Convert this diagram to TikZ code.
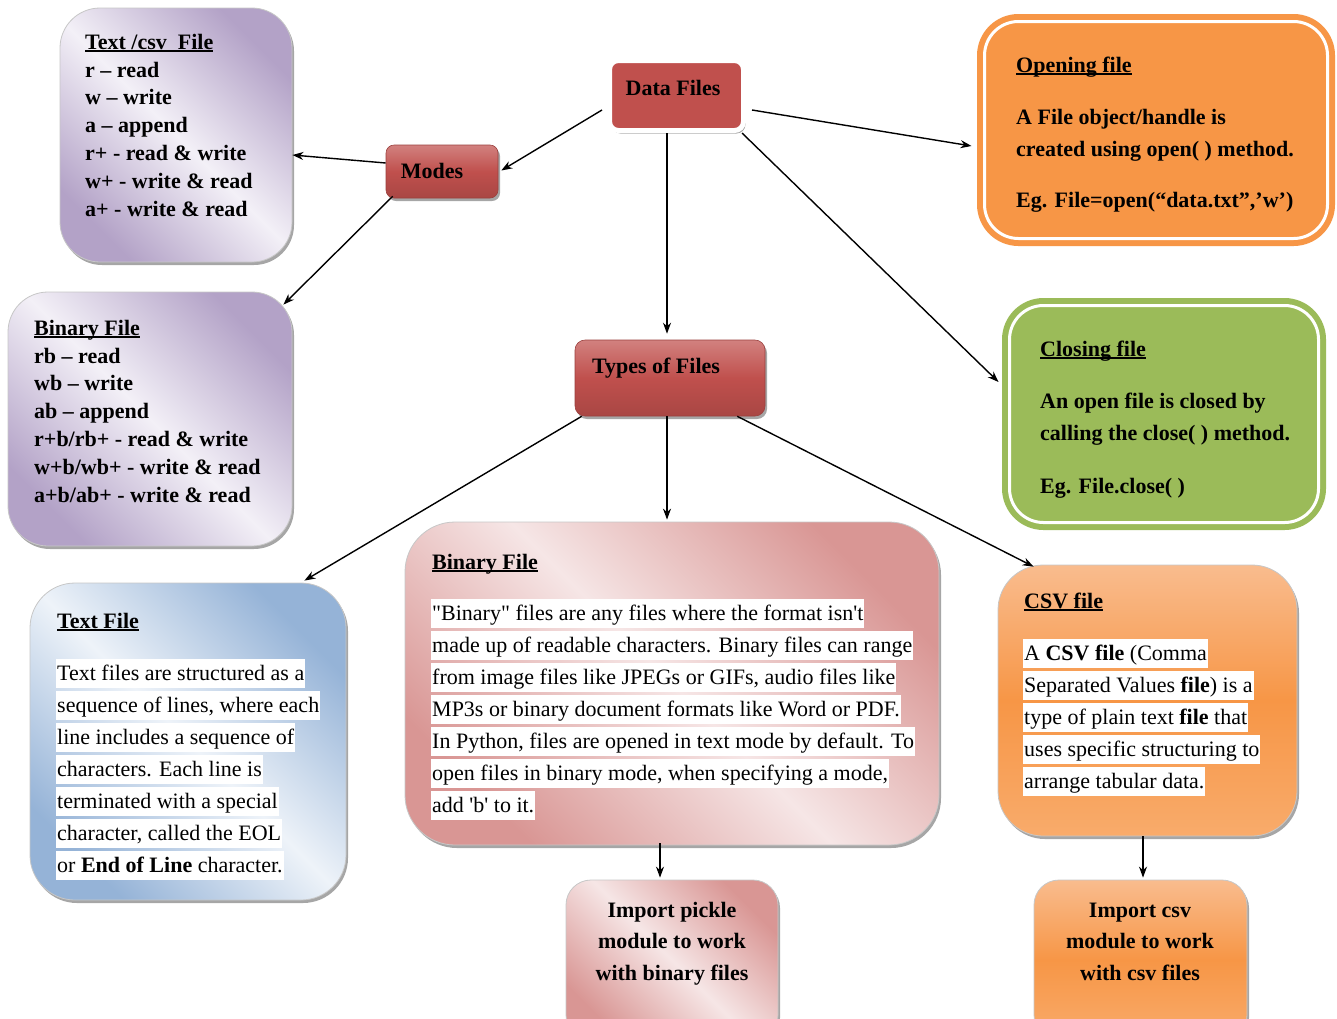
\documentclass[tikz,border=0pt]{standalone}
\usepackage{fontspec}
\setmainfont{Liberation Serif}[Ligatures=TeXOff]
\usetikzlibrary{shadows,calc,arrows.meta}
\definecolor{pur}{HTML}{B3A2C7}
\definecolor{purl}{HTML}{F3F0F7}
\definecolor{blu}{HTML}{95B3D7}
\definecolor{blul}{HTML}{EEF3F9}
\definecolor{pnk}{HTML}{D99694}
\definecolor{pnkl}{HTML}{F6E6E6}
\definecolor{org}{HTML}{F79646}
\definecolor{orgl}{HTML}{F9BC8E}
\definecolor{grn}{HTML}{9BBB59}
\definecolor{rd}{HTML}{C0504D}
\newcommand\ulx[1]{\setbox0\hbox{#1}\rlap{\rule[-2.6pt]{\wd0}{1.4pt}}\box0}
\newcommand\hlx[1]{{\setlength\fboxsep{1pt}\colorbox{white}{\rule[-7pt]{0pt}{27pt}#1}}}
\newcommand\listfont{\fontsize{22}{27.8}\selectfont\bfseries}
\newcommand\infofont{\fontsize{22}{32}\selectfont\bfseries}
\newcommand\bodyfont{\fontsize{22}{32}\selectfont}
\newcommand\impfont{\fontsize{22}{31.5}\selectfont\bfseries}
\newcommand\fst{\rule{0pt}{16pt}}
\begin{document}
\begin{tikzpicture}[x=1pt,y=-1pt,
  box/.style={rectangle, inner sep=0pt, draw=black!22, line width=0.8pt},
  shad/.style={drop shadow={shadow xshift=2pt,shadow yshift=-3pt,opacity=0.35,fill=black}},
  diag/.style 2 args={top color=#1,bottom color=#1,middle color=#2,shading angle=-45},
  redbox/.style={rectangle, inner sep=0pt, draw=rd!80!black, line width=0.6pt, top color=rd!72!white, bottom color=rd!88!black, middle color=rd, shad},
  orgshade/.style={top color=orgl, bottom color=org!80!white, middle color=org},
  conn/.style={-{Stealth[length=11pt,width=8pt]}, line width=1.4pt},
  txt/.style={inner sep=0pt, align=left, anchor=north west},
  ttl/.style={inner sep=0pt, anchor=base west, font=\fontsize{22}{27}\selectfont\bfseries},
]
\useasboundingbox (0,0) rectangle (1337,1018);
\fill[white] (0,0) rectangle (1337,1018);
\clip (0,0) rectangle (1337,1018);

% boxes
\node[box, shad, diag={pur}{purl}, rounded corners=40pt, minimum width=232pt, minimum height=254pt] (tcsv) at (176,135) {};
\node[box, shad, diag={pur}{purl}, rounded corners=40pt, minimum width=284pt, minimum height=254pt] (bmode) at (150,419) {};
\node[redbox, rounded corners=8pt, minimum width=112pt, minimum height=53pt] (modes) at (442,171.5) {};
\node[rectangle, fill=rd, draw=white, line width=5pt, rounded corners=9pt, minimum width=134pt, minimum height=70pt, shad] (data) at (676.5,95.5) {};
\node[redbox, rounded corners=10pt, minimum width=190pt, minimum height=76pt] (types) at (670,378) {};
\node[rectangle, fill=org, draw=org, line width=6pt, double=white, double distance=3pt, rounded corners=34pt, minimum width=343pt, minimum height=217pt] (open) at (1156,130) {};
\node[rectangle, fill=grn, draw=grn, line width=6pt, double=white, double distance=3pt, rounded corners=34pt, minimum width=309pt, minimum height=217pt] (close) at (1164,414) {};
\node[box, shad, diag={blu}{blul}, rounded corners=45pt, minimum width=316pt, minimum height=317pt] (tfile) at (188,741.5) {};
\node[box, shad, diag={pnk}{pnkl}, rounded corners=50pt, minimum width=534pt, minimum height=323pt] (bfile) at (672,683.5) {};
\node[box, shad, orgshade, rounded corners=45pt, minimum width=299pt, minimum height=271pt] (cfile) at (1147.5,700.5) {};
\node[box, shad, diag={pnk}{pnkl}, rounded corners=25pt, minimum width=212pt, minimum height=160pt] (pickle) at (672,960) {};
\node[box, shad, orgshade, rounded corners=25pt, minimum width=213pt, minimum height=160pt] (icsv) at (1140.5,960) {};

% texts
\node[txt, font=\listfont] (tcsvt) at (85,33) {\fst\ulx{Text /csv\ \ File}\\ r – read\\ w – write\\ a – append\\ r+ - read \& write\\ w+ - write \& read\\ a+ - write \& read};
\node[txt, font=\listfont] (bmodet) at (34,319) {\fst\ulx{Binary File}\\ rb – read\\ wb – write\\ ab – append\\ r+b/rb+ - read \& write\\ w+b/wb+ - write \& read\\ a+b/ab+ - write \& read};
\node[inner sep=0pt, anchor=base, font=\fontsize{22}{27}\selectfont\bfseries] (modest) at (432,178) {Modes};
\node[inner sep=0pt, anchor=base, font=\fontsize{22}{27}\selectfont\bfseries] (datat) at (673,95) {Data Files};
\node[inner sep=0pt, anchor=base, font=\fontsize{22}{27}\selectfont\bfseries] (typest) at (656,373) {Types of Files};
\node[txt, font=\infofont] (opent) at (1016,56) {\fst\ulx{Opening file}\\[20pt] A File object/handle is\\ created using open( ) method.\\[19pt] Eg. File=open(“data.txt”,’w’)};
\node[txt, font=\infofont] (closet) at (1040,340) {\fst\ulx{Closing file}\\[20pt] An open file is closed by\\ calling the close( ) method.\\[21pt] Eg. File.close( )};

\node[ttl] (tfilett) at (57,628) {\ulx{Text File}};
\node[txt, font=\bodyfont] (tfilet) at (56,659) {\hlx{Text files are structured as a}\\ \hlx{sequence of lines, where each}\\ \hlx{line includes a sequence of}\\ \hlx{characters. Each line is}\\ \hlx{terminated with a special}\\ \hlx{character, called the EOL}\\ \hlx{or \textbf{End of Line} character.}};

\node[ttl] (bfilett) at (432,569) {\ulx{Binary File}};
\node[txt, font=\bodyfont] (bfilet) at (431,599) {\hlx{"Binary" files are any files where the format isn't}\\ \hlx{made up of readable characters. Binary files can range}\\ \hlx{from image files like JPEGs or GIFs, audio files like}\\ \hlx{MP3s or binary document formats like Word or PDF.}\\ \hlx{In Python, files are opened in text mode by default. To}\\ \hlx{open files in binary mode, when specifying a mode,}\\ \hlx{add 'b' to it.}};

\node[ttl] (cfilett) at (1024,608) {\ulx{CSV file}};
\node[txt, font=\bodyfont] (cfilet) at (1023,639) {\hlx{A \textbf{CSV file} (Comma}\\ \hlx{Separated Values \textbf{file}) is a}\\ \hlx{type of plain text \textbf{file} that}\\ \hlx{uses specific structuring to}\\ \hlx{arrange tabular data.}};

\node[inner sep=0pt, anchor=north, align=center, font=\impfont] (picklet) at (672,901) {\fst Import pickle\\ module to work\\ with binary files};
\node[inner sep=0pt, anchor=north, align=center, font=\impfont] (icsvt) at (1140,901) {\fst Import csv\\ module to work\\ with csv files};

% connectors
\draw[conn] ($(data.west)+(-5,14.5)$) -- ($(modes.east)+(3,-1)$);
\draw[conn] ($(modes.west)+(0,-8.5)$) -- ($(tcsv.east)+(0,20)$);
\draw[conn] ($(modes.south west)+(7,-2)$) -- ($(bmode.north east)+(-9,13)$);
\draw[conn] ($(data.south)+(-9.5,0)$) -- ($(types.north)+(-3,-6)$);
\draw[conn] ($(data.east)+(6,14.5)$) -- ($(open.west)+(-10,16)$);
\draw[conn] ($(data.south east)+(-4,0)$) -- ($(close.west)+(-8,-32)$);
\draw[conn] ($(types.south west)+(7,0)$) -- ($(tfile.north east)+(-42,-2)$);
\draw[conn] ($(types.south)+(-3,0)$) -- ($(bfile.north)+(-5,-2)$);
\draw[conn] ($(types.south east)+(-28,0)$) -- ($(cfile.north west)+(36,2)$);
\draw[conn] ($(bfile.south)+(-12,-2)$) -- ($(pickle.north)+(-12,-2)$);
\draw[conn] ($(cfile.south)+(-4.5,0)$) -- ($(icsv.north)+(2.5,-2)$);
\end{tikzpicture}
\end{document}
